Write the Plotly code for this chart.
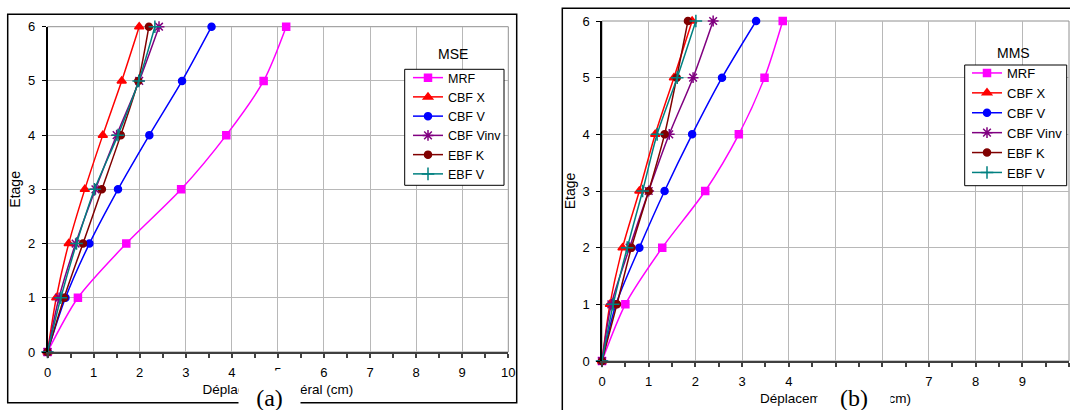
import plotly.graph_objects as go

W, H = 1070, 410

series = ["MRF", "CBF X", "CBF V", "CBF Vinv", "EBF K", "EBF V"]
etages = [0, 1, 2, 3, 4, 5, 6]
x_ticks = [0, 1, 2, 3, 4, 5, 6, 7, 8, 9, 10]
y_ticks = [0, 1, 2, 3, 4, 5, 6]

# Panel (a) - MSE : lateral displacement (cm) per storey
mse_mrf = [0, 0.66, 1.71, 2.90, 3.88, 4.69, 5.18]
mse_cbfx = [0, 0.19, 0.46, 0.81, 1.20, 1.61, 1.99]
mse_cbfv = [0, 0.39, 0.91, 1.53, 2.21, 2.92, 3.56]
mse_cbfvinv = [0, 0.25, 0.61, 1.04, 1.50, 1.99, 2.42]
mse_ebfk = [0, 0.36, 0.77, 1.18, 1.59, 1.97, 2.20]
mse_ebfv = [0, 0.29, 0.63, 1.02, 1.53, 1.98, 2.33]

# Panel (b) - MMS
mms_mrf = [0, 0.50, 1.29, 2.21, 2.93, 3.48, 3.87]
mms_cbfx = [0, 0.17, 0.44, 0.80, 1.14, 1.54, 1.93]
mms_cbfv = [0, 0.30, 0.80, 1.34, 1.93, 2.57, 3.30]
mms_cbfvinv = [0, 0.20, 0.59, 1.00, 1.44, 1.95, 2.38]
mms_ebfk = [0, 0.32, 0.63, 1.00, 1.34, 1.60, 1.84]
mms_ebfv = [0, 0.24, 0.54, 0.87, 1.18, 1.61, 2.01]

mse_data = [mse_mrf, mse_cbfx, mse_cbfv, mse_cbfvinv, mse_ebfk, mse_ebfv]
mms_data = [mms_mrf, mms_cbfx, mms_cbfv, mms_cbfvinv, mms_ebfk, mms_ebfv]

colors = ["#FF00FF", "#FF0000", "#0000FF", "#800080", "#800000", "#008080"]
symbols = ["square", "triangle-up", "circle", "asterisk-open", "circle", "cross-thin-open"]
msizes = [7, 8, 7, 9, 7, 9]

FONT = "Liberation Sans, Arial, sans-serif"


def px(p):
    return p / W


def py(p):
    return 1 - p / H


fig = go.Figure()

for data, xa, ya, leg in [(mse_data, "x", "y", "legend"), (mms_data, "x2", "y2", "legend2")]:
    for name, vals, c, s, ms in zip(series, data, colors, symbols, msizes):
        fig.add_trace(go.Scatter(
            x=vals, y=etages, name=name, mode="lines+markers",
            xaxis=xa, yaxis=ya, legend=leg, cliponaxis=False,
            line=dict(color=c, width=1.5, shape="spline", smoothing=0.8),
            marker=dict(symbol=s, size=ms, color=c, line=dict(color=c, width=1.5)),
        ))

xtitle = "Déplacement latéral (cm)"
common_x = dict(
    range=[0, 10], tickmode="array", tickvals=x_ticks, ticktext=[str(v) for v in x_ticks],
    showgrid=True, gridcolor="#b8b8b8", gridwidth=1, zeroline=False,
    ticks="outside", ticklen=4, tickcolor="#404040", tickwidth=1.5,
    showline=True, linecolor="#404040", linewidth=2,
    minor=dict(dtick=0.5, ticks="outside", ticklen=4, tickcolor="#404040", tickwidth=1.5, showgrid=False),
    tickfont=dict(family=FONT, size=13, color="#000000"),
    ticklabelstandoff=3, automargin=False,
)
common_y = dict(
    range=[0, 6], tickmode="array", tickvals=y_ticks, ticktext=[str(v) for v in y_ticks],
    showgrid=True, gridcolor="#b8b8b8", gridwidth=1, zeroline=False,
    ticks="outside", ticklen=4, tickcolor="#000000", tickwidth=1,
    showline=True, linecolor="#000000", linewidth=1.5,
    tickfont=dict(family=FONT, size=13, color="#000000"),
    ticklabelstandoff=4, automargin=False,
)

fig.update_layout(
    width=W, height=H, margin=dict(l=0, r=0, t=0, b=0, autoexpand=False),
    paper_bgcolor="white", plot_bgcolor="white",
    font=dict(family=FONT, size=12, color="#000000"),
    xaxis=dict(domain=[px(47.5), px(508.3)], anchor="y",
               title=dict(text=xtitle, font=dict(size=13.5), standoff=6), **common_x),
    yaxis=dict(domain=[py(352), py(26.7)], anchor="x",
               title=dict(text="Etage", font=dict(size=14), standoff=4), **common_y),
    xaxis2=dict(domain=[px(602), px(1069)], anchor="y2",
                title=dict(text=xtitle, font=dict(size=13.5), standoff=6), **common_x),
    yaxis2=dict(domain=[py(361), py(21)], anchor="x2",
                title=dict(text="Etage", font=dict(size=14), standoff=4), **common_y),
    legend=dict(x=px(408), y=py(63), xanchor="left", yanchor="top",
                borderwidth=0, bgcolor="rgba(0,0,0,0)",
                font=dict(family=FONT, size=12.5), itemwidth=30, tracegroupgap=0),
    legend2=dict(x=px(967), y=py(58), xanchor="left", yanchor="top",
                 borderwidth=0, bgcolor="rgba(0,0,0,0)",
                 font=dict(family=FONT, size=13), itemwidth=30, tracegroupgap=0),
    showlegend=True,
)

shapes = [
    # plot-area borders
    dict(type="rect", xref="x domain", yref="y domain", x0=0, x1=1, y0=0, y1=1,
         line=dict(color="#909090", width=1), layer="below"),
    dict(type="rect", xref="x2 domain", yref="y2 domain", x0=0, x1=1, y0=0, y1=1,
         line=dict(color="#909090", width=1), layer="below"),
    # outer frames
    dict(type="rect", xref="paper", yref="paper", x0=px(7.7), x1=px(516.7), y0=py(402.7), y1=py(14.3),
         line=dict(color="#000000", width=1.5)),
    dict(type="rect", xref="paper", yref="paper", x0=px(562.3), x1=px(1080), y0=py(420), y1=py(8.3),
         line=dict(color="#000000", width=1.5)),
    # legend boxes
    dict(type="rect", xref="paper", yref="paper", x0=px(404.7), x1=px(504), y0=py(185.3), y1=py(69.3),
         line=dict(color="#000000", width=1), fillcolor="white", layer="above"),
    dict(type="rect", xref="paper", yref="paper", x0=px(964.7), x1=px(1066.7), y0=py(185.7), y1=py(65),
         line=dict(color="#000000", width=1), fillcolor="white", layer="above"),
]
fig.update_layout(shapes=shapes)

annotations = [
    dict(text="MSE", x=px(453), y=py(53.5), xref="paper", yref="paper", showarrow=False,
         font=dict(family=FONT, size=14), xanchor="center", yanchor="middle"),
    dict(text="MMS", x=px(1013), y=py(53), xref="paper", yref="paper", showarrow=False,
         font=dict(family=FONT, size=14), xanchor="center", yanchor="middle"),
    dict(text="(a)", x=px(238), y=py(370), xref="paper", yref="paper", showarrow=False,
         xanchor="left", yanchor="top", width=61, height=40, bgcolor="white", valign="bottom",
         borderpad=0, font=dict(family="Liberation Serif, Times New Roman, serif", size=24)),
    dict(text="(b)", x=px(817), y=py(372), xref="paper", yref="paper", showarrow=False,
         xanchor="left", yanchor="top", width=72, height=38, bgcolor="white", valign="bottom",
         borderpad=0, font=dict(family="Liberation Serif, Times New Roman, serif", size=24)),
]
fig.update_layout(annotations=annotations)

fig.write_html("out.html", config={"displayModeBar": False},
               post_script="document.body.style.margin='0';document.body.style.overflow='hidden';")
